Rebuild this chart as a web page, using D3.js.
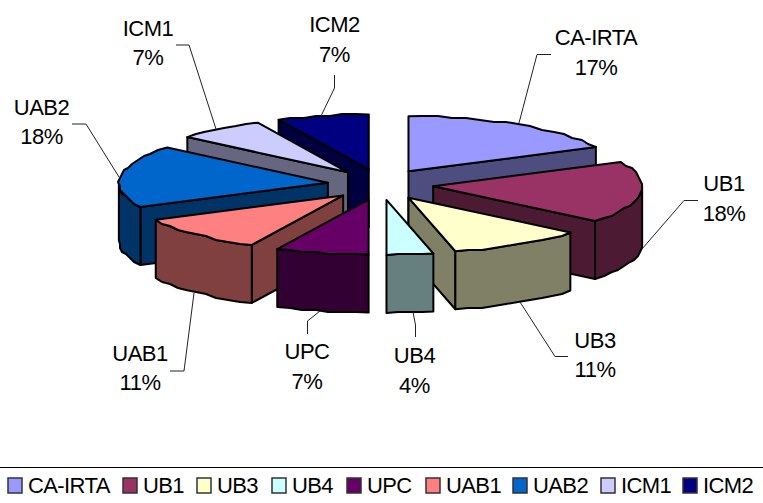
<html>
<style>
  body { margin: 0; background: #fff; font-family: "Liberation Sans", Arial, sans-serif; }
  svg { display: block; }
</style>
<body>
<svg id="chart" width="763" height="503"></svg>
<script src="https://d3js.org/d3.v7.min.js"></script>
<script>
  let names = ["CA-IRTA", "UB1", "UB3", "UB4", "UPC", "UAB1", "UAB2", "ICM1", "ICM2"]
  // printed labels
  let percents = [17, 18, 11, 4, 7, 11, 18, 7, 7]
  // slice sizes as measured on the drawing, they don't match the printed labels exactly
  let shares = [17.7, 18.2, 10.5, 3.6, 7.2, 10.5, 18.35, 6.85, 7.1]
  let colors = ["#9999ff", "#993366", "#ffffcc", "#ccffff", "#660066", "#ff8080", "#0066cc", "#ccccff", "#000080"]

  // back to front, the same order the slices overlap in the picture
  let drawOrder = ["ICM2", "CA-IRTA", "ICM1", "UB1", "UAB2", "UB3", "UAB1", "UB4", "UPC"]

  // label x centre, baseline of name, baseline of percent
  let labelPos = {
    "CA-IRTA": [596, 45, 75], "UB1": [724, 191, 221], "UB3": [595, 348, 377], "UB4": [414.5, 363, 393], "UPC": [307, 359, 389],
    "UAB1": [140, 361, 390], "UAB2": [41.5, 115, 144], "ICM1": [148, 36, 65], "ICM2": [334.5, 32, 62]
  }
  let leaders = {
    "CA-IRTA": [[551, 54.5], [537, 54.5], [519, 123]],
    "UB1": [[698, 200.5], [684, 200.5], [642, 249]],
    "UB3": [[568, 356.5], [555, 356.5], [520, 302]],
    "UB4": [[415.5, 337], [415.5, 325], [413, 312]],
    "UPC": [[307.5, 334], [307.5, 321], [320, 311]],
    "UAB1": [[170, 371], [184, 371], [194, 293]],
    "UAB2": [[72, 124], [86, 124], [119, 177]],
    "ICM1": [[176, 45], [189, 45], [216, 129]],
    "ICM2": [[334.5, 75], [334.5, 88], [321, 116]]
  }

  let width = 763
  let cx = 380.5, cy = 184.5
  let rx = 209, ry = 55      // tilted pie
  let depth = 58
  let explodeX = 53, explodeY = 15.5

  let svg = d3.select("#chart")

  let pie = d3.pie().sort(null).value(d => d.value)
  let slices = pie(names.map((n, i) => ({ name: n, value: shares[i], color: colors[i] })))

  function point(a, o) {
    return [o[0] + rx * Math.sin(a), o[1] - ry * Math.cos(a)]
  }

  // coarse steps on a 2px grid, the original outline is a rough one
  function arcPoints(a0, a1, o) {
    let n = Math.max(2, Math.ceil((a1 - a0) / 0.07))
    return d3.range(n + 1).map(i => {
      let p = point(a0 + (a1 - a0) * i / n, o)
      if (i === 0 || i === n) return p
      return [Math.round(p[0] / 2) * 2, Math.round(p[1] / 2) * 2]
    })
  }

  let line = d3.line()

  function face(g, pts, fill) {
    g.append("path")
      .attr("d", line(pts) + "Z")
      .attr("fill", fill)
      .attr("stroke", "#000")
      .attr("stroke-width", 2)
      .attr("stroke-linejoin", "round")
  }

  function down(p) { return [p[0], p[1] + depth] }

  function drawSlice(d) {
    let g = svg.append("g").attr("class", "slice")
    let mid = (d.startAngle + d.endAngle) / 2
    let o = [cx + explodeX * Math.sin(mid), cy - explodeY * Math.cos(mid)]
    let side = d3.rgb(d.data.color)
    side = d3.rgb(side.r / 2, side.g / 2, side.b / 2).formatHex()

    let p0 = point(d.startAngle, o)
    let p1 = point(d.endAngle, o)

    // cut faces, only the one that looks at the viewer
    if (Math.sin(d.endAngle) > 0.001) face(g, [o, p1, down(p1), down(o)], side)
    if (Math.sin(d.startAngle) < -0.001) face(g, [o, p0, down(p0), down(o)], side)

    // outer wall, front half only
    let w0 = Math.max(d.startAngle, Math.PI / 2)
    let w1 = Math.min(d.endAngle, Math.PI * 1.5)
    if (w1 > w0) {
      let top = arcPoints(w0, w1, o)
      face(g, top.concat(top.map(down).reverse()), side)
    }

    // top
    face(g, [o].concat(arcPoints(d.startAngle, d.endAngle, o)), d.data.color)
  }

  drawOrder.forEach(n => drawSlice(slices.find(s => s.data.name === n)))

  // leader lines
  names.forEach(n => {
    svg.append("path")
      .attr("d", line(leaders[n]))
      .attr("fill", "none")
      .attr("stroke", "#222")
      .attr("stroke-width", 1)
  })

  // labels
  names.forEach((n, i) => {
    let p = labelPos[n]
    let t = svg.append("text")
      .attr("text-anchor", "middle")
      .attr("font-size", 22)
      .attr("letter-spacing", -0.5)
      .attr("fill", "#000")
    t.append("tspan").attr("x", p[0]).attr("y", p[1]).text(n)
    t.append("tspan").attr("x", p[0]).attr("y", p[2]).text(percents[i] + "%")
  })

  // legend
  let legend = svg.append("g")
  legend.append("line")
    .attr("x1", 0).attr("x2", width)
    .attr("y1", 467.5).attr("y2", 467.5)
    .attr("stroke", "#000").attr("stroke-width", 1)

  let legendX = [8, 123, 197, 272, 347, 426, 513, 601, 683]
  names.forEach((n, i) => {
    legend.append("rect")
      .attr("x", legendX[i]).attr("y", 478)
      .attr("width", 14).attr("height", 15)
      .attr("fill", colors[i])
      .attr("stroke", "#333").attr("stroke-width", 1.5)
    legend.append("text")
      .attr("x", legendX[i] + 20).attr("y", 493)
      .attr("font-size", 22)
      .attr("letter-spacing", -0.6)
      .attr("fill", "#000")
      .text(n)
  })
</script>
</body>
</html>
